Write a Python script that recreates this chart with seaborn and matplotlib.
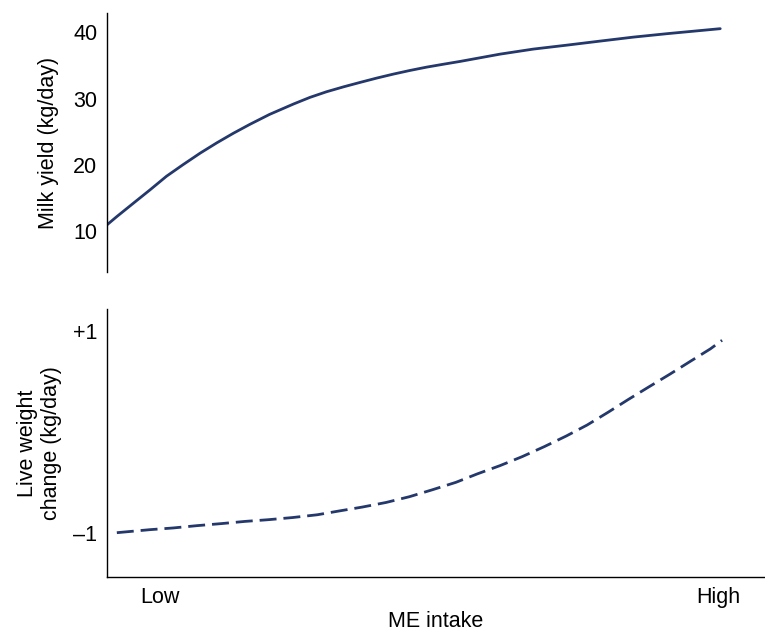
import matplotlib
matplotlib.use("Agg")
import matplotlib.pyplot as plt
import seaborn as sns
import pandas as pd

# valores (x = ingestao de EM, 0 = inicio, 100 = fim da curva)
x_leite = [0, 1.6, 4.3, 7.0, 9.7, 12.4, 15.2, 17.9, 20.6, 23.3, 26.5, 30.4,
           33.1, 35.8, 38.6, 41.3, 44.0, 46.7, 49.4, 52.1, 54.9, 57.6, 64.1,
           69.5, 75.0, 80.4, 85.8, 91.4, 100]
leite = [10.9, 12.15, 14.17, 16.18, 18.25, 20.0, 21.75, 23.3, 24.75, 26.1,
         27.6, 29.17, 30.18, 31.03, 31.78, 32.45, 33.1, 33.7, 34.25, 34.75,
         35.2, 35.62, 36.72, 37.48, 38.08, 38.69, 39.29, 39.82, 40.57]

x_peso = [1.6, 7.0, 10.8, 14.7, 18.6, 22.5, 26.3, 30.2, 34.3, 37.8, 41.6,
          45.5, 49.3, 53.0, 56.9, 60.4, 64.1, 67.7, 71.3, 74.9, 78.3, 81.7,
          85.0, 88.3, 91.8, 95.1, 98.4, 100.3]
peso = [-1.0, -0.97, -0.953, -0.93, -0.91, -0.888, -0.871, -0.85, -0.822,
        -0.785, -0.746, -0.70, -0.643, -0.575, -0.50, -0.416, -0.334, -0.245,
        -0.146, -0.04, 0.069, 0.195, 0.322, 0.445, 0.574, 0.70, 0.825, 0.91]

ticks_leite = [10, 20, 30, 40]
ticks_peso = [-1, 1]
labels_peso = ["\u20131", "+1"]
ticks_x = [8.6, 99.7]
labels_x = ["Low", "High"]

df_leite = pd.DataFrame({"x": x_leite, "y": leite})
df_peso = pd.DataFrame({"x": x_peso, "y": peso})

sns.set_style("white")
plt.rcParams["font.family"] = ["Liberation Sans", "DejaVu Sans"]
plt.rcParams["font.size"] = 15.5
plt.rcParams["text.color"] = "black"
plt.rcParams["axes.labelcolor"] = "black"

cor = "#24386b"
fs = 15.5

fig = plt.figure(figsize=(7.65, 6.32), dpi=100)
ax1 = fig.add_axes([0.1399, 0.570, 0.8601, 0.409])
ax2 = fig.add_axes([0.1399, 0.087, 0.8601, 0.424])

sns.lineplot(data=df_leite, x="x", y="y", ax=ax1, color=cor, linewidth=2)
sns.lineplot(data=df_peso, x="x", y="y", ax=ax2, color=cor, linewidth=2)
ax2.lines[0].set_dashes((6.1, 2.5))

for ax in (ax1, ax2):
    ax.set_xlim(0, 107.3)
    ax.tick_params(length=0, pad=7, labelsize=fs, colors="black")
    for s in ax.spines.values():
        s.set_color("black")
        s.set_linewidth(1.0)

# painel de cima
ax1.set_ylim(3.8, 42.9)
ax1.set_yticks(ticks_leite)
ax1.set_xticks([])
ax1.set_xlabel("")
ax1.set_ylabel("Milk yield (kg/day)", fontsize=fs, labelpad=10)
sns.despine(ax=ax1, top=True, right=True, bottom=True)

# painel de baixo
ax2.set_ylim(-1.44, 1.22)
ax2.set_yticks(ticks_peso)
ax2.set_yticklabels(labels_peso)
ax2.set_xticks(ticks_x)
ax2.set_xticklabels(labels_x)
ax2.set_xlabel("ME intake", fontsize=fs, labelpad=2)
ax2.set_ylabel("Live weight\nchange (kg/day)", fontsize=fs, labelpad=8)
sns.despine(ax=ax2, top=True, right=True)

fig.savefig("out.png", dpi=100)
